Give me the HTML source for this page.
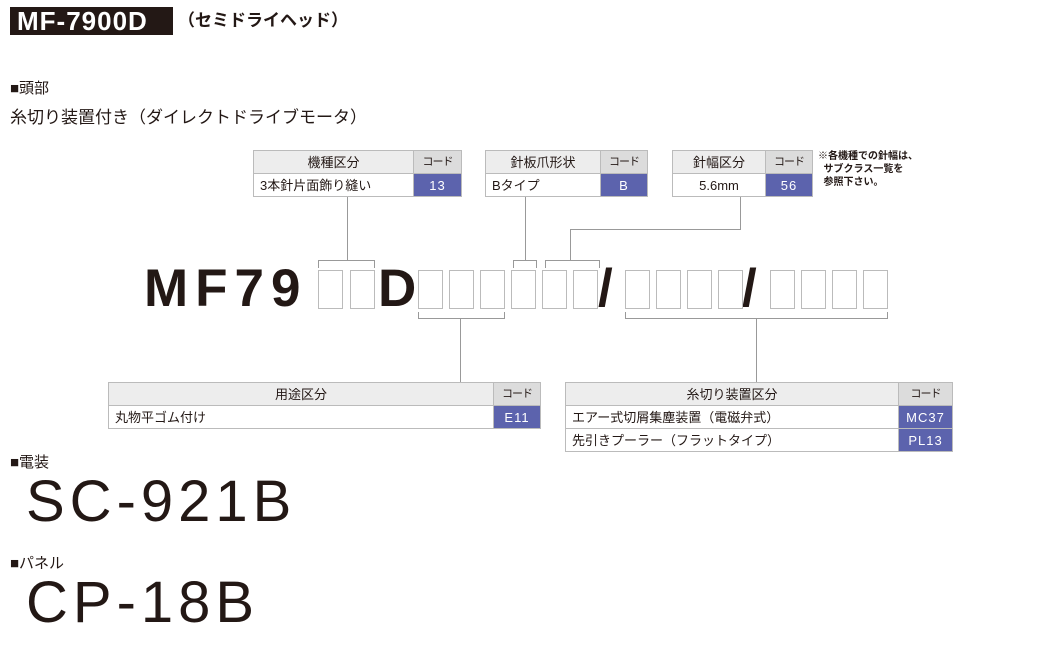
<!DOCTYPE html>
<html><head><meta charset="utf-8"><style>
*{margin:0;padding:0;box-sizing:border-box}
body{width:1060px;height:646px;background:#fff;position:relative;overflow:hidden;font-family:"Liberation Sans","Noto Sans CJK JP",sans-serif;color:#231815}
.a{position:absolute;white-space:nowrap}
.ln{position:absolute;background:#999}
.bx{position:absolute;border:1px solid #bbb;width:25px;height:39px;top:270px}
.tb{position:absolute;border-collapse:collapse;font-size:13px;table-layout:fixed}
.tb td{border:1px solid #bbb;height:23px;padding:0 6px;line-height:21px;white-space:nowrap;overflow:hidden}
.h{background:#ededed;text-align:center}
.hc{background:#dcdcdc;text-align:center;font-size:11px;letter-spacing:-1px;padding:0 !important}
.c{background:#5c63ad;color:#fff;text-align:center;letter-spacing:1px;padding:0 !important}
.big{position:absolute;top:257px;font-size:53px;line-height:64px;font-weight:bold}
</style></head><body>
<div class="a" style="left:10px;top:7px;width:163px;height:28px;background:#231815"></div>
<div class="a" style="left:17px;top:7px;font-size:26px;font-weight:bold;color:#fff;line-height:28px;letter-spacing:1px">MF-7900D</div>
<div class="a" style="left:178px;top:9px;font-size:17px;font-weight:bold;line-height:24px">（セミドライヘッド）</div>
<div class="a" style="left:10px;top:79px;font-size:15px;line-height:20px">■頭部</div>
<div class="a" style="left:10px;top:107px;font-size:17px;line-height:22px">糸切り装置付き（ダイレクトドライブモータ）</div>

<table class="tb" style="left:253px;top:150px;width:209px"><colgroup><col><col style="width:48px"></colgroup><tr><td class="h">機種区分</td><td class="hc">コード</td></tr><tr><td>3本針片面飾り縫い</td><td class="c">13</td></tr></table>
<table class="tb" style="left:485px;top:150px;width:163px"><colgroup><col><col style="width:47px"></colgroup><tr><td class="h">針板爪形状</td><td class="hc">コード</td></tr><tr><td>Bタイプ</td><td class="c">B</td></tr></table>
<table class="tb" style="left:672px;top:150px;width:141px"><colgroup><col><col style="width:47px"></colgroup><tr><td class="h">針幅区分</td><td class="hc">コード</td></tr><tr><td style="text-align:center">5.6mm</td><td class="c">56</td></tr></table>
<div class="a" style="left:818px;top:150px;font-size:10px;line-height:13px;font-weight:bold">※各機種での針幅は、<br>&nbsp;&nbsp;サブクラス一覧を<br>&nbsp;&nbsp;参照下さい。</div>

<div class="ln" style="left:347px;top:197px;width:1px;height:63px"></div>
<div class="ln" style="left:318px;top:260px;width:57px;height:1px"></div>
<div class="ln" style="left:318px;top:260px;width:1px;height:8px"></div>
<div class="ln" style="left:374px;top:260px;width:1px;height:8px"></div>
<div class="ln" style="left:525px;top:197px;width:1px;height:63px"></div>
<div class="ln" style="left:513px;top:260px;width:24px;height:1px"></div>
<div class="ln" style="left:513px;top:260px;width:1px;height:8px"></div>
<div class="ln" style="left:536px;top:260px;width:1px;height:8px"></div>
<div class="ln" style="left:740px;top:197px;width:1px;height:32px"></div>
<div class="ln" style="left:570px;top:229px;width:171px;height:1px"></div>
<div class="ln" style="left:570px;top:229px;width:1px;height:31px"></div>
<div class="ln" style="left:545px;top:260px;width:55px;height:1px"></div>
<div class="ln" style="left:545px;top:260px;width:1px;height:8px"></div>
<div class="ln" style="left:599px;top:260px;width:1px;height:8px"></div>

<div class="big" style="left:144px;letter-spacing:7px">MF79</div>
<div class="big" style="left:378px">D</div>
<div class="big" style="left:598px">/</div>
<div class="big" style="left:742px">/</div>
<div class="bx" style="left:318px"></div><div class="bx" style="left:350px"></div>
<div class="bx" style="left:418px"></div><div class="bx" style="left:449px"></div><div class="bx" style="left:480px"></div>
<div class="bx" style="left:511px"></div><div class="bx" style="left:542px"></div><div class="bx" style="left:573px"></div>
<div class="bx" style="left:625px"></div><div class="bx" style="left:656px"></div><div class="bx" style="left:687px"></div><div class="bx" style="left:718px"></div>
<div class="bx" style="left:770px"></div><div class="bx" style="left:801px"></div><div class="bx" style="left:832px"></div><div class="bx" style="left:863px"></div>

<div class="ln" style="left:418px;top:318px;width:87px;height:1px"></div>
<div class="ln" style="left:418px;top:312px;width:1px;height:7px"></div>
<div class="ln" style="left:504px;top:312px;width:1px;height:7px"></div>
<div class="ln" style="left:460px;top:318px;width:1px;height:64px"></div>
<div class="ln" style="left:625px;top:318px;width:263px;height:1px"></div>
<div class="ln" style="left:625px;top:312px;width:1px;height:7px"></div>
<div class="ln" style="left:887px;top:312px;width:1px;height:7px"></div>
<div class="ln" style="left:756px;top:318px;width:1px;height:64px"></div>

<table class="tb" style="left:108px;top:382px;width:433px"><colgroup><col><col style="width:47px"></colgroup><tr><td class="h">用途区分</td><td class="hc">コード</td></tr><tr><td>丸物平ゴム付け</td><td class="c">E11</td></tr></table>
<table class="tb" style="left:565px;top:382px;width:388px"><colgroup><col><col style="width:54px"></colgroup><tr><td class="h">糸切り装置区分</td><td class="hc">コード</td></tr><tr><td>エアー式切屑集塵装置（電磁弁式）</td><td class="c">MC37</td></tr><tr><td>先引きプーラー（フラットタイプ）</td><td class="c">PL13</td></tr></table>

<div class="a" style="left:10px;top:453px;font-size:15px;line-height:20px">■電装</div>
<div class="a" style="left:26px;top:470px;font-size:58px;line-height:64px;letter-spacing:5px">SC-921B</div>
<div class="a" style="left:10px;top:554px;font-size:15px;line-height:20px">■パネル</div>
<div class="a" style="left:26px;top:571px;font-size:58px;line-height:64px;letter-spacing:5px">CP-18B</div>
</body></html>
